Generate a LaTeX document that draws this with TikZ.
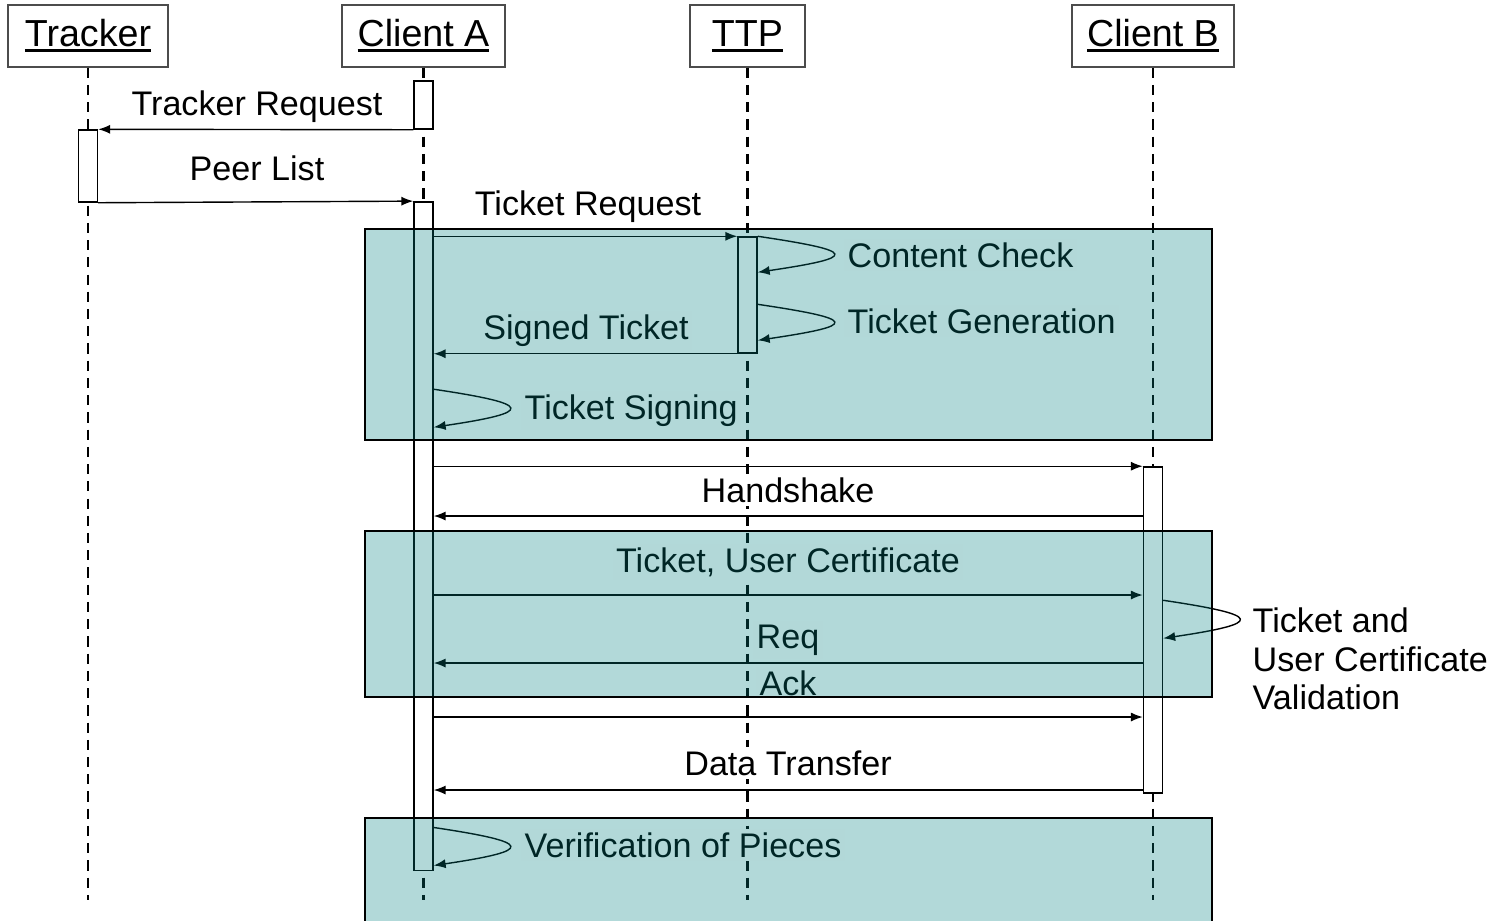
\documentclass[tikz,border=0pt]{standalone}
\usepackage{fontspec}
\setmainfont{Liberation Sans}
\newcommand{\headline}[1]{{\setbox0=\hbox{#1}\rlap{\rule[-1.6pt]{\wd0}{0.85pt}}\box0}}
\usetikzlibrary{arrows.meta}

\begin{document}
\begin{tikzpicture}[->,>={Latex[length=3.4pt,width=2.6pt]},thin,x=0.01cm,y=-0.01cm,
                    head node/.style={rectangle,draw=black!70,minimum height=0.62cm,inner sep=0pt,
                                      font=\fontsize{10.7}{12}\selectfont},
                    bar node/.style={rectangle,draw,fill=white,minimum width=0.19cm,inner sep=0pt},
                    label node/.style={anchor=base,inner sep=1pt,fill=white,
                                       font=\fontsize{9.7}{10.95}\selectfont},
                    life line/.style={-,line width=0.8pt,dash pattern=on 2.9pt off 2pt},
                    frame box/.style={-,draw=black,line width=0.6pt,fill=teal,fill opacity=0.3}]
  \useasboundingbox (0,0) rectangle (1500,920);
  \clip (0,0) rectangle (1500,920);
  % participants
  \node[head node,minimum width=1.60cm] (tr) at (88,36) {\headline{Tracker}};
  \node[head node,minimum width=1.63cm] (ca) at (423.5,36) {\headline{Client A}};
  \node[head node,minimum width=1.15cm] (ttp) at (747.5,36) {\headline{TTP}};
  \node[head node,minimum width=1.62cm] (cb) at (1153,36) {\headline{Client B}};
  \coordinate (bottom) at (0,900);
  \foreach \n in {tr,ca,ttp,cb}
    \draw[life line] (\n.south) -- (\n |- bottom);
  % activations
  \node[bar node,minimum height=0.48cm] (ca1) at (ca |- 0,105) {};
  \node[bar node,minimum height=0.72cm] (tr1) at (tr |- 0,166) {};
  \node[bar node,minimum height=6.68cm] (ca2) at (ca |- 0,536) {};
  \node[bar node,minimum height=1.16cm] (ttp1) at (ttp |- 0,295) {};
  \node[bar node,minimum height=3.26cm] (cb1) at (cb |- 0,630) {};
  \coordinate (b1) at (cb1.west |- 0,516);
  \coordinate (b2) at (cb1.west |- 0,595);
  \coordinate (b3) at (cb1.west |- 0,663);
  \coordinate (b4) at (cb1.west |- 0,717);
  \coordinate (b5) at (cb1.west |- 0,790);
  % messages
  \draw (ca1.south west) -- (tr1.north east);
  \draw (tr1.south east) -- (ca2.north west);
  \draw (ca2.east |- ttp1.north) -- (ttp1.north west);
  \draw (ttp1.south west) -- (ca2.east |- ttp1.south);
  \draw (ca2.east |- cb1.north) -- (cb1.north west);
  \draw (b1) -- (ca2.east |- b1);
  \draw (ca2.east |- b2) -- (b2);
  \draw (b3) -- (ca2.east |- b3);
  \draw (ca2.east |- b4) -- (b4);
  \draw (b5) -- (ca2.east |- b5);
  % self calls
  \draw (ttp1.north east) .. controls +(101,15) and +(101,-15) .. ([yshift=-0.36cm]ttp1.north east);
  \draw ([yshift=-0.68cm]ttp1.north east) .. controls +(101,15) and +(101,-15) .. ([yshift=-1.04cm]ttp1.north east);
  \draw ([yshift=-1.88cm]ca2.north east) .. controls +(101,15) and +(101,-15) .. ([yshift=-2.26cm]ca2.north east);
  \draw ([yshift=-1.34cm]cb1.north east) .. controls +(101,15) and +(101,-15) .. ([yshift=-1.72cm]cb1.north east);
  \draw ([yshift=-6.26cm]ca2.north east) .. controls +(101,15) and +(101,-15) .. ([yshift=-6.64cm]ca2.north east);
  % labels
  \node[label node] (req) at (257,115) {Tracker Request};
  \node[label node] (peers) at (257,180) {Peer List};
  \node[label node] (treq) at (588,215) {Ticket Request};
  \node[label node,anchor=base west] (check) at (843.5,267) {Content Check};
  \node[label node,anchor=base west] (gen) at (843.5,333) {Ticket Generation};
  \node[label node] (signed) at (586,339) {Signed Ticket};
  \node[label node,anchor=base west] (sign) at (520.5,419) {Ticket Signing};
  \node[label node] (hand) at (788,502) {Handshake};
  \node[label node] (cert) at (788,572) {Ticket, User Certificate};
  \node[label node,anchor=west,align=left] (valid) at (1248.5,659) {Ticket and\\User Certificate\\Validation};
  \node[label node] (rq) at (788,648) {Req};
  \node[label node] (ack) at (788,695) {Ack};
  \node[label node] (data) at (788,775) {Data Transfer};
  \node[label node,anchor=base west] (verify) at (520.5,857) {Verification of Pieces};
  % phases
  \draw[frame box] (365,229) rectangle (1212,440);
  \draw[frame box] (365,531) rectangle (1212,697);
  \draw[frame box] (365,818) rectangle (1212,930);
\end{tikzpicture}
\end{document}
